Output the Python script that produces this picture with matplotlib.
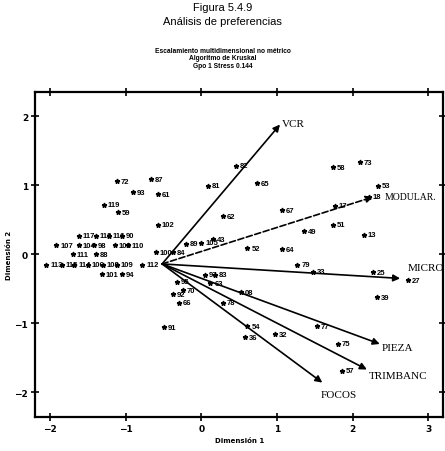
import matplotlib
matplotlib.use("Agg")
import matplotlib.pyplot as plt

# puntos (sujetos) en el espacio de preferencias
pt_labels = ["73", "58", "53", "18", "17", "13", "51", "49", "67", "64", "52", "62", "65",
             "82", "81", "43", "105", "89", "87", "72", "93", "61", "119", "59", "102",
             "117", "118", "116", "90", "107", "104", "98", "103", "110", "111", "88",
             "113", "115", "114", "106", "108", "109", "112", "101", "94", "100", "84",
             "95", "92", "70", "66", "91", "79", "33", "25", "27", "39", "97", "83",
             "63", "08", "78", "77", "75", "57", "54", "36", "32"]
pt_x = [2.10, 1.74, 2.34, 2.22, 1.77, 2.15, 1.74, 1.36, 1.07, 1.07, 0.61, 0.29, 0.73,
        0.46, 0.09, 0.15, 0.00, -0.20, -0.67, -1.12, -0.90, -0.57, -1.29, -1.11, -0.58,
        -1.62, -1.40, -1.22, -1.05, -1.92, -1.62, -1.42, -1.15, -0.97, -1.70, -1.40,
        -2.05, -1.85, -1.68, -1.50, -1.30, -1.12, -0.78, -1.32, -1.05, -0.60, -0.38,
        -0.32, -0.38, -0.25, -0.30, -0.50, 1.27, 1.48, 2.27, 2.73, 2.32, 0.05, 0.18,
        0.12, 0.52, 0.28, 1.53, 1.81, 1.86, 0.61, 0.58, 0.98]
pt_y = [1.33, 1.26, 0.99, 0.83, 0.70, 0.28, 0.43, 0.33, 0.64, 0.07, 0.09, 0.55, 1.03,
        1.28, 0.99, 0.22, 0.17, 0.15, 1.09, 1.06, 0.90, 0.87, 0.72, 0.61, 0.43,
        0.27, 0.27, 0.27, 0.27, 0.13, 0.13, 0.13, 0.13, 0.13, 0.00, 0.00,
        -0.15, -0.15, -0.15, -0.15, -0.15, -0.15, -0.15, -0.29, -0.29, 0.03, 0.03,
        -0.40, -0.58, -0.52, -0.70, -1.06, -0.15, -0.25, -0.26, -0.38, -0.62, -0.30, -0.30,
        -0.42, -0.55, -0.70, -1.04, -1.30, -1.69, -1.04, -1.20, -1.16]

# vectores de atributos
vec_names = ["VCR", "MODULAR.", "MICRO", "PIEZA", "TRIMBANC", "FOCOS"]
vec_x = [1.04, 2.27, 2.63, 2.36, 2.19, 1.60]
vec_y = [1.88, 0.83, -0.35, -1.30, -1.67, -1.86]
vec_style = ["-", "--", "-", "-", "-", "-"]
origin = (-0.52, -0.14)

fig = plt.figure(figsize=(4.45, 4.52), dpi=100)
ax = fig.add_axes([0.079, 0.075, 0.917, 0.719])

ax.plot(pt_x, pt_y, "k*", ms=3.5, zorder=3)
for lab, x, y in zip(pt_labels, pt_x, pt_y):
    ax.text(x + 0.05, y, lab, fontsize=5.5, fontweight="bold", va="center",
            family="Liberation Sans", zorder=4)

label_off = {"VCR": (0.02, 0.02, "left", "center", 8),
             "MODULAR.": (0.15, 0.0, "left", "center", 7),
             "MICRO": (0.1, 0.16, "left", "center", 8),
             "PIEZA": (0.02, -0.05, "left", "center", 8),
             "TRIMBANC": (0.02, -0.08, "left", "center", 8),
             "FOCOS": (-0.02, -0.1, "left", "top", 8)}
for name, vx, vy, ls in zip(vec_names, vec_x, vec_y, vec_style):
    ax.annotate("", xy=(vx, vy), xytext=origin,
                arrowprops=dict(arrowstyle="-|>", color="k", lw=1.2, ls=ls,
                                mutation_scale=10, shrinkA=0, shrinkB=0))
    dx, dy, ha, va, fs = label_off[name]
    ax.text(vx + dx, vy + dy, name, fontsize=fs, family="Liberation Serif",
            ha=ha, va=va)

ax.set_xlim(-2.2, 3.2)
ax.set_ylim(-2.36, 2.35)
ax.set_xticks([-2, -1, 0, 1, 2, 3])
ax.set_yticks([-2, -1, 0, 1, 2])
ax.tick_params(direction="inout", length=6, width=1.2, top=True, right=True,
               labelsize=6.5, pad=2)
for t in ax.get_xticklabels() + ax.get_yticklabels():
    t.set_fontweight("bold")
for s in ax.spines.values():
    s.set_linewidth(1.6)

ax.set_xlabel("Dimensión 1", fontsize=5, fontweight="bold", labelpad=3)
ax.set_ylabel("Dimensión 2", fontsize=5, fontweight="bold", labelpad=2)

fig.text(0.5, 0.982, "Figura 5.4.9", ha="center", va="center", fontsize=8,
         family="Liberation Sans")
fig.text(0.5, 0.951, "Análisis de preferencias", ha="center", va="center",
         fontsize=8, family="Liberation Sans")
fig.text(0.5, 0.870, "Escalamiento multidimensional no métrico\nAlgoritmo de Kruskal\nGpo 1 Stress 0.144",
         ha="center", va="center", fontsize=4.8, fontweight="bold",
         family="Liberation Sans", linespacing=1.1)

fig.savefig("out.png", dpi=100)
